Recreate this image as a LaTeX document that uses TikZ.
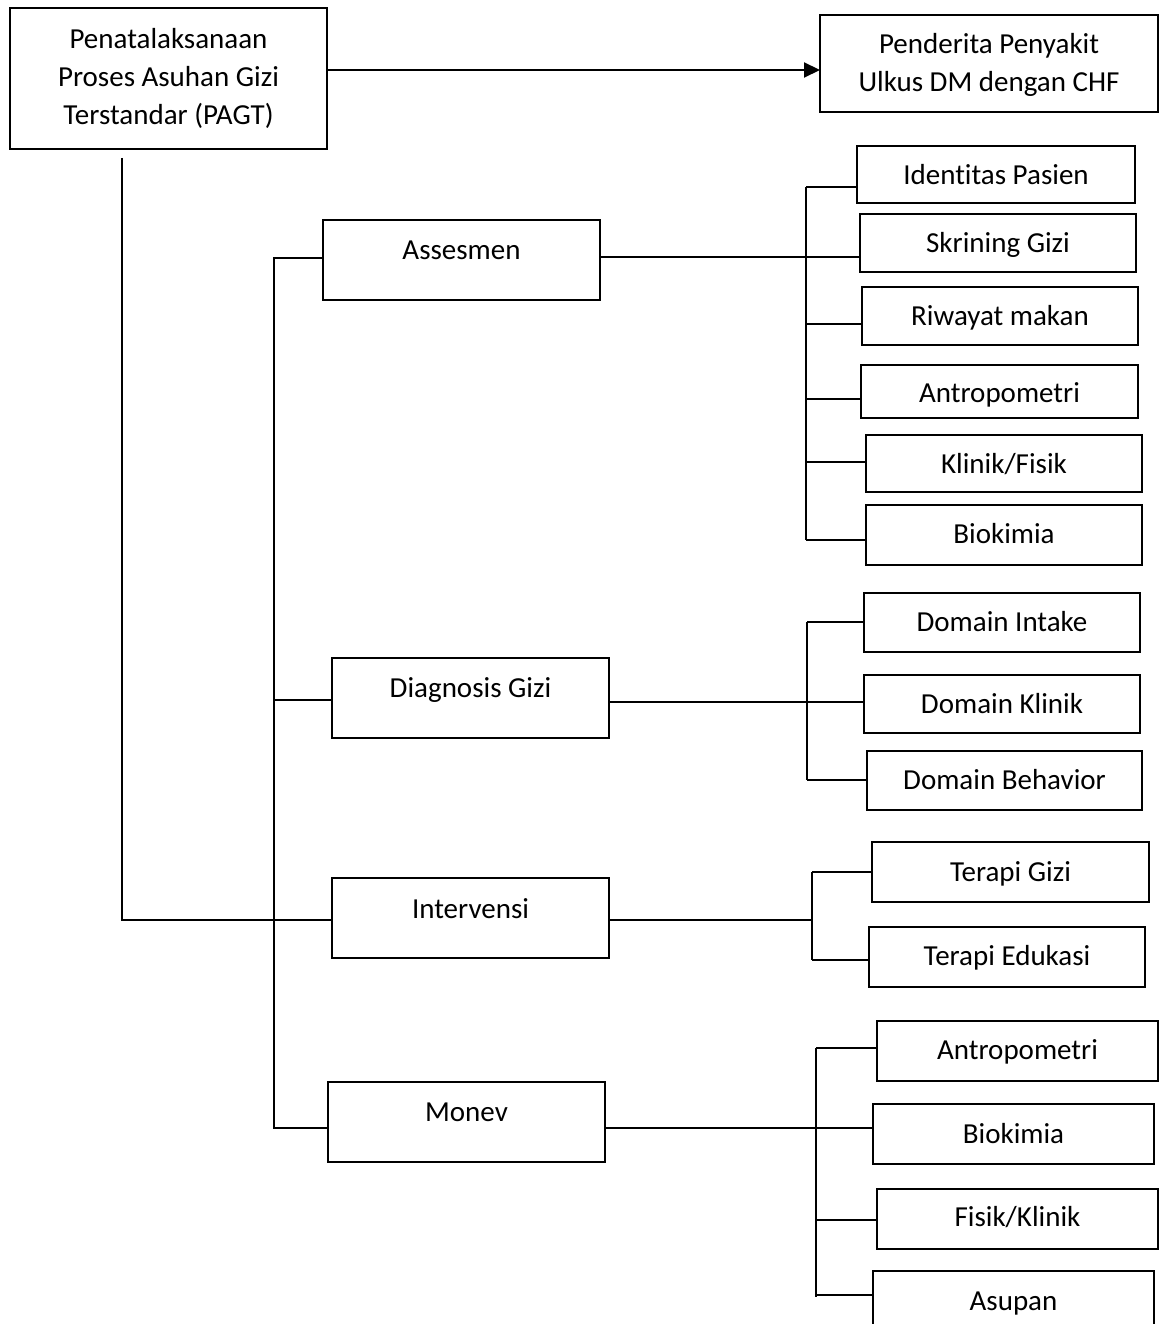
\documentclass[tikz,border=0pt]{standalone}
\usepackage{fontspec}
\setmainfont{Carlito}[Ligatures=NoCommon]
\usetikzlibrary{arrows.meta}
\tikzset{
  box/.style={draw, line width=2.6pt, inner sep=0pt, outer sep=0pt, anchor=north west},
  txt/.style={inner sep=0pt, text height=19pt, text depth=0pt, font=\fontsize{29}{38}\selectfont},
  mtxt/.style={inner sep=0pt, align=center, font=\fontsize{29}{38}\selectfont},
  conn/.style={line width=2.1pt},
}
\newcommand\mybox[7]{%
  \node[box, minimum width={#4-#2}, minimum height={#5-#3}] (#1) at (#2,#3) {};
  \node[txt] (#1t) at ({(#2+#4)/2},#6) {#7};
}
\begin{document}
\begin{tikzpicture}[x=1pt,y=-1pt]
\useasboundingbox (0,0) rectangle (1165,1324);
\clip (0,0) rectangle (1165,1324);
% top boxes
\node[box, minimum width=317, minimum height=141] (pagt) at (10,8) {};
\node[mtxt] (pagtt) at (168.5,78) {Penatalaksanaan\\Proses Asuhan Gizi\\Terstandar (PAGT)};
\node[box, minimum width=338, minimum height=97] (pend) at (820,15) {};
\node[mtxt] (pendt) at (989,65) {Penderita Penyakit\\Ulkus DM dengan CHF};
\draw[conn, -{Triangle[length=16pt,width=15pt]}] (pagt.east |- 0,70) -- (pend.west |- 0,70);
% main boxes
\mybox{ass}{323}{220}{600}{300}{250}{Assesmen}
\mybox{dg}{332}{658}{609}{738}{688}{Diagnosis Gizi}
\mybox{int}{332}{878}{609}{958}{909}{Intervensi}
\mybox{mon}{328}{1082}{605}{1162}{1112}{Monev}
% assesmen children
\mybox{a1}{857}{146}{1135}{203}{175}{Identitas Pasien}
\mybox{a2}{860}{214}{1136}{272}{243}{Skrining Gizi}
\mybox{a3}{862}{287}{1138}{345}{316}{Riwayat makan}
\mybox{a4}{861}{365}{1138}{418}{393}{Antropometri}
\mybox{a5}{866}{435}{1142}{492}{464}{Klinik/Fisik}
\mybox{a6}{866}{505}{1142}{565}{534}{Biokimia}
% diagnosis children
\mybox{d1}{864}{593}{1140}{652}{622}{Domain Intake}
\mybox{d2}{864}{675}{1140}{733}{704}{Domain Klinik}
\mybox{d3}{867}{751}{1142}{810}{780}{Domain Behavior}
% intervensi children
\mybox{i1}{872}{842}{1149}{902}{872}{Terapi Gizi}
\mybox{i2}{869}{927}{1145}{987}{956}{Terapi Edukasi}
% monev children
\mybox{m1}{877}{1021}{1158}{1081}{1050}{Antropometri}
\mybox{m2}{873}{1104}{1154}{1164}{1134}{Biokimia}
\mybox{m3}{877}{1189}{1158}{1249}{1217}{Fisik/Klinik}
\mybox{m4}{873}{1271}{1154}{1345}{1301}{Asupan}
% PAGT down-line
\coordinate (p1) at (122,158);
\coordinate (p2) at (122,920);
\draw[conn] (p1) -- (p2) -- (int.west |- p2);
% trunk
\coordinate (t1) at (274,258);
\coordinate (t2) at (274,1128);
\coordinate (t3) at (274,700);
\draw[conn] (ass.west |- t1) -- (t1) -- (t2) -- (mon.west |- t2);
\draw[conn] (t3) -- (dg.west |- t3);
% assesmen branch
\coordinate (ab1) at (806,187);
\coordinate (ab2) at (806,540);
\draw[conn] (ass.east |- 0,257) -- (a2.west |- 0,257);
\draw[conn] (ab1) -- (ab2);
\draw[conn] (ab1) -- (a1.west |- ab1);
\draw[conn] (806,324) -- (a3.west |- 0,324);
\draw[conn] (806,399) -- (a4.west |- 0,399);
\draw[conn] (806,462) -- (a5.west |- 0,462);
\draw[conn] (ab2) -- (a6.west |- ab2);
% diagnosis branch
\coordinate (db1) at (807,622);
\coordinate (db2) at (807,780);
\draw[conn] (dg.east |- 0,702) -- (d2.west |- 0,702);
\draw[conn] (db1) -- (db2);
\draw[conn] (db1) -- (d1.west |- db1);
\draw[conn] (db2) -- (d3.west |- db2);
% intervensi branch
\coordinate (ib1) at (812,872);
\coordinate (ib2) at (812,960);
\draw[conn] (int.east |- 0,920) -- (812,920);
\draw[conn] (ib1) -- (ib2);
\draw[conn] (ib1) -- (i1.west |- ib1);
\draw[conn] (ib2) -- (i2.west |- ib2);
% monev branch
\coordinate (mb1) at (816,1048);
\coordinate (mb2) at (816,1297);
\draw[conn] (mon.east |- 0,1128) -- (m2.west |- 0,1128);
\draw[conn] (mb1) -- (mb2);
\draw[conn] (mb1) -- (m1.west |- mb1);
\draw[conn] (816,1220) -- (m3.west |- 0,1220);
\draw[conn] (816,1295) -- (m4.west |- 0,1295);
\end{tikzpicture}
\end{document}
